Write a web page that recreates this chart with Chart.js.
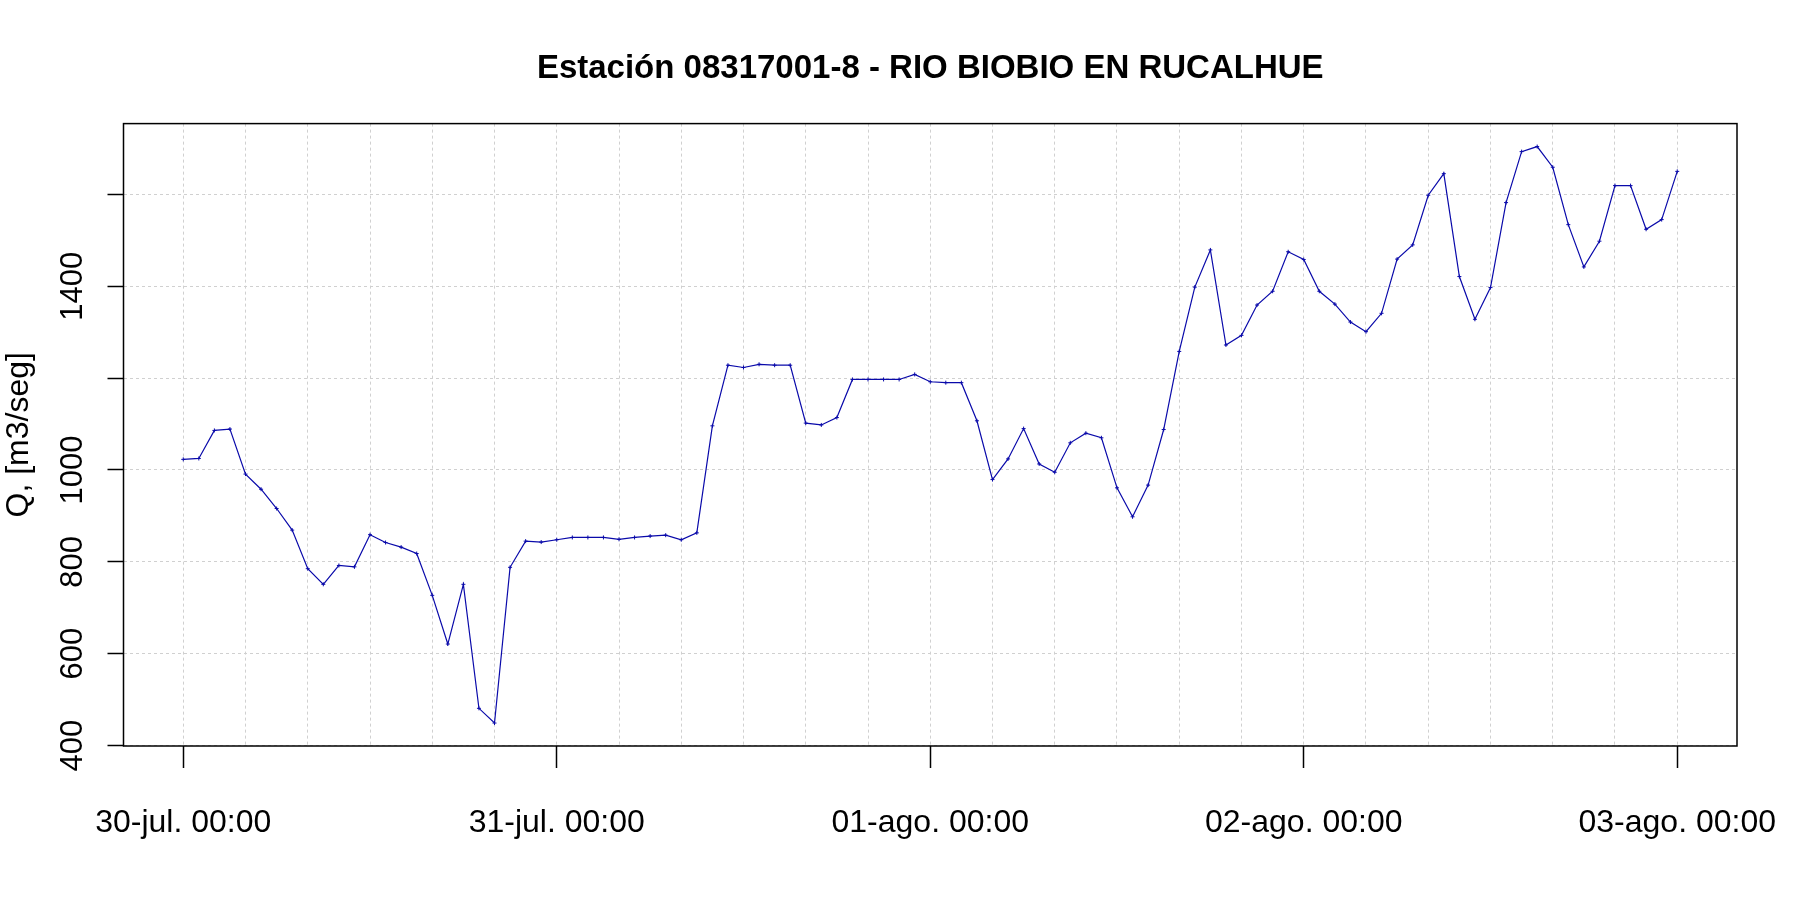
<!DOCTYPE html>
<html lang="es">
<head>
<meta charset="utf-8">
<title>Estación 08317001-8 - RIO BIOBIO EN RUCALHUE</title>
<script src="https://cdn.jsdelivr.net/npm/chart.js@4"></script>
<style>
  html, body { margin: 0; padding: 0; background: #fff; }
  canvas { display: block; }
</style>
</head>
<body>
<canvas id="flowChart" width="1800" height="900"></canvas>
<script>
// ---------- Data (hourly, 30-jul 00:00 -> 03-ago 00:00) ----------
const flow = [
  1023, 1025, 1086, 1089, 991, 958, 916, 869, 785, 751, 792, 789,
  859, 842, 832, 818, 727, 621, 751, 481, 449, 788, 845, 843,
  848, 853, 853, 853, 849, 853, 856, 858, 848, 863, 1096, 1228,
  1223, 1230, 1228, 1228, 1102, 1098, 1114, 1197, 1197, 1197, 1197, 1208,
  1192, 1190, 1190, 1107, 979, 1024, 1090, 1013, 995, 1059, 1080, 1070,
  961, 898, 967, 1088, 1258, 1398, 1479, 1272, 1293, 1359, 1389, 1475,
  1458, 1389, 1361, 1322, 1301, 1341, 1459, 1490, 1598, 1645, 1421, 1328,
  1397, 1582, 1693, 1704, 1659, 1534, 1442, 1498, 1619, 1619, 1524, 1545,
  1650
];
const dayLabels = ['30-jul. 00:00', '31-jul. 00:00', '01-ago. 00:00', '02-ago. 00:00', '03-ago. 00:00'];
const yTicks = [400, 600, 800, 1000, 1200, 1400, 1600];
const yTickLabels = ['400', '600', '800', '1000', '', '1400', ''];

// grid every 4 hours
const gridHours = [];
for (let h = 0; h <= 96; h += 4) gridHours.push(h);

const FONT = '"Liberation Sans", Arial, sans-serif';
const LINE = 'rgb(10, 10, 170)';
const GRID = '#d0d0d0';

// ---------- Plot box like R's box() ----------
const boxPlugin = {
  id: 'box',
  afterDatasetsDraw(chart) {
    const {ctx, chartArea: a} = chart;
    ctx.save();
    ctx.strokeStyle = '#000';
    ctx.lineWidth = 1.5;
    ctx.strokeRect(a.left, a.top, a.right - a.left, a.bottom - a.top);
    ctx.restore();
  }
};

Chart.defaults.color = '#000';
Chart.defaults.font.family = FONT;

new Chart(document.getElementById('flowChart').getContext('2d'), {
  type: 'line',
  data: {
    datasets: [{
      label: 'Q',
      data: flow.map((v, i) => ({x: i, y: v})),
      borderColor: LINE,
      backgroundColor: LINE,
      borderWidth: 1.2,
      tension: 0,
      fill: false,
      pointStyle: 'cross',
      pointRadius: 2,
      pointBorderWidth: 1,
      pointBorderColor: LINE
    }]
  },
  plugins: [boxPlugin],
  options: {
    responsive: false,
    devicePixelRatio: 1,
    animation: false,
    events: [],
    layout: {padding: {top: 0, right: 63, bottom: 0, left: 0}},
    plugins: {
      legend: {display: false},
      tooltip: {enabled: false},
      title: {
        display: true,
        fullSize: false,
        text: 'Estación 08317001-8 - RIO BIOBIO EN RUCALHUE',
        color: '#000',
        font: {family: FONT, size: 33, weight: 'bold'},
        padding: {top: 49, bottom: 35}
      }
    },
    scales: {
      x: {
        type: 'linear',
        min: -3.84,
        max: 99.84,
        afterBuildTicks: s => { s.ticks = gridHours.map(v => ({value: v})); },
        afterFit: s => {
          s.height = 154;
          s.paddingLeft = 0;   // labels may overhang, like R
          s.paddingRight = 0;
        },
        ticks: {
          autoSkip: false,
          maxRotation: 0,
          minRotation: 0,
          padding: 36,
          font: {family: FONT, size: 32},
          color: '#000',
          callback: v => (v % 24 === 0 ? dayLabels[v / 24] : '')
        },
        grid: {
          color: GRID,
          lineWidth: 1,
          tickLength: 22,
          tickWidth: 1.5,
          tickBorderDash: [],
          tickColor: c => (c.tick && c.tick.value % 24 === 0 ? '#000' : 'rgba(0,0,0,0)')
        },
        border: {display: false, dash: [3, 3]}
      },
      y: {
        type: 'linear',
        min: 399,
        max: 1754,
        afterBuildTicks: s => { s.ticks = yTicks.map(v => ({value: v})); },
        afterFit: s => {
          s.width = 123.5;
          s.paddingTop = 0;
          s.paddingBottom = 0;
        },
        ticks: {
          minRotation: 90,
          maxRotation: 90,
          crossAlign: 'center',
          padding: 0,
          font: {family: FONT, size: 31},
          color: '#000',
          callback: v => yTickLabels[yTicks.indexOf(v)]
        },
        grid: {
          color: GRID,
          lineWidth: 1,
          tickLength: 16,
          tickWidth: 1.5,
          tickBorderDash: [],
          tickColor: '#000'
        },
        border: {display: false, dash: [3, 3]},
        title: {
          display: true,
          text: 'Q, [m3/seg]',
          color: '#000',
          font: {family: FONT, size: 32},
          padding: {top: 0, bottom: 0}
        }
      }
    }
  }
});
</script>
</body>
</html>
